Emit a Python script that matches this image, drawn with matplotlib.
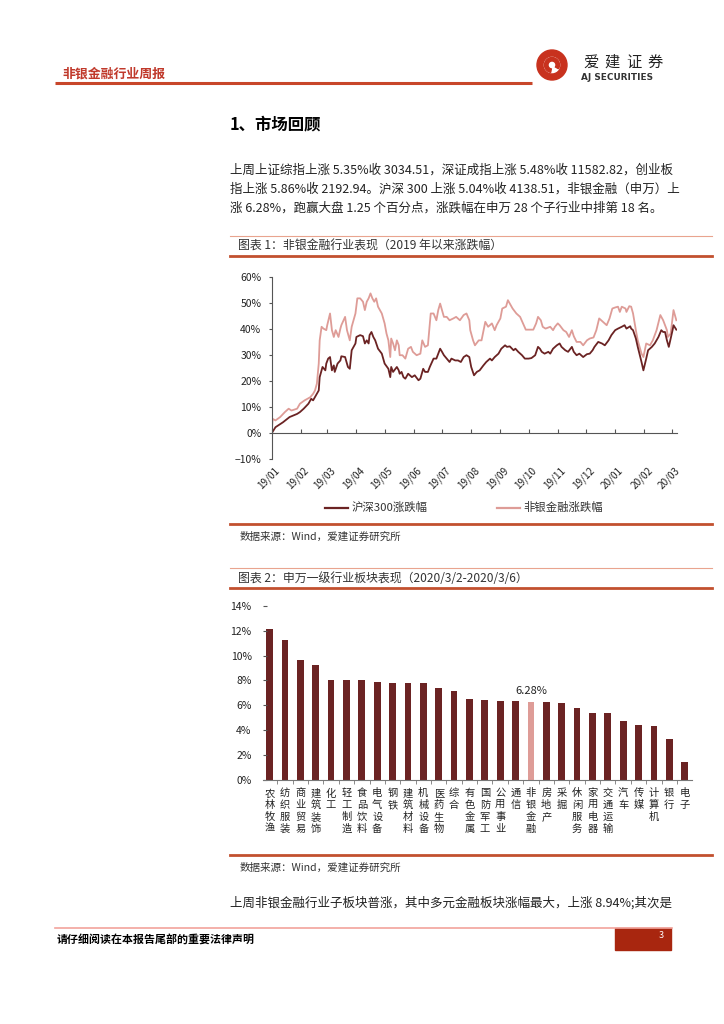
"""Weekly report page: market review text plus two charts (non-bank financials)."""

import matplotlib
matplotlib.use("Agg")
import matplotlib.pyplot as plt
import numpy as np
import pandas as pd
from matplotlib.patches import Rectangle, Wedge
from matplotlib.ticker import FuncFormatter

plt.rcParams["font.family"] = ["Noto Sans CJK SC", "DejaVu Sans"]

W, H = 724, 1024

# ---- chart 1: cumulative change since 2019-01-01 (days offset, %) ----
START = pd.Timestamp("2019-01-01")
hs300_day = [0, 4, 12, 19, 27, 30, 34, 39, 42, 44,
             48, 50, 51, 54, 57, 58, 60, 62, 64, 66,
             67, 70, 73, 74, 78, 81, 83, 85, 89, 90,
             94, 97, 99, 101, 103, 104, 106, 108, 110, 113,
             117, 120, 124, 126, 127, 129, 133, 135, 136, 138,
             140, 142, 145, 149, 152, 156, 158, 161, 163, 166,
             168, 172, 175, 179, 181, 183, 186, 189, 191, 195,
             198, 201, 204, 207, 210, 212, 215, 218, 221, 225,
             228, 232, 234, 237, 241, 244, 248, 250, 253, 257,
             259, 262, 266, 269, 273, 276, 280, 283, 285, 287,
             290, 294, 296, 299, 303, 306, 308, 312, 315, 319,
             321, 324, 327, 331, 335, 338, 341, 343, 347, 351,
             354, 358, 361, 365, 368, 372, 375, 377, 381, 382,
             384, 387, 389, 393, 395, 398, 400, 404, 407, 411,
             414, 416, 418, 420, 422, 424, 426, 427, 430]
hs300_pct = [0, 2.3, 4.2, 6.2, 7.4, 8.1, 9.4, 11.3, 13.2, 12.6,
             15.1, 16.4, 21.5, 25.4, 24.1, 26.7, 28.6, 29.2, 24.1, 26.0,
             23.5, 26.7, 27.9, 29.5, 29.2, 25.4, 24.7, 31.8, 34.4, 36.9,
             37.6, 37.2, 34.4, 35.6, 34.4, 37.6, 38.8, 36.9, 35.6, 32.4,
             30.5, 26.7, 24.7, 21.5, 25.4, 23.5, 25.4, 24.1, 22.8, 23.5,
             21.5, 20.9, 22.8, 21.5, 22.2, 20.3, 20.9, 24.7, 23.5, 23.5,
             25.4, 28.6, 28.6, 32.4, 31.2, 29.9, 28.6, 27.3, 28.6, 27.9,
             27.9, 27.3, 29.2, 29.9, 29.2, 25.4, 22.2, 23.5, 24.1, 26.0,
             27.3, 28.6, 27.9, 29.2, 30.5, 32.4, 33.7, 33.1, 33.3, 31.8,
             32.4, 31.2, 29.9, 28.6, 28.6, 28.8, 29.9, 33.1, 32.4, 31.2,
             30.5, 31.2, 30.5, 32.4, 33.7, 34.4, 33.1, 31.8, 31.2, 33.1,
             31.2, 29.9, 30.5, 29.2, 30.3, 30.5, 31.8, 33.1, 35.0, 34.4,
             33.7, 35.6, 37.6, 39.5, 40.1, 40.8, 41.4, 40.1, 41.0, 40.1,
             39.5, 36.3, 33.1, 27.3, 24.1, 28.6, 31.8, 33.1, 34.4, 36.9,
             39.5, 38.8, 38.8, 35.6, 33.1, 36.3, 39.5, 41.4, 39.7]

fin_day = [0, 1, 4, 9, 14, 18, 21, 27, 30, 35,
           41, 44, 46, 48, 50, 51, 53, 55, 58, 59,
           62, 64, 66, 68, 71, 73, 74, 78, 80, 83,
           85, 89, 91, 94, 97, 99, 101, 103, 105, 107,
           109, 111, 113, 117, 120, 122, 124, 126, 127, 129,
           131, 133, 135, 136, 139, 142, 145, 148, 150, 154,
           158, 160, 163, 166, 169, 172, 175, 177, 179, 181,
           183, 186, 189, 193, 196, 200, 204, 207, 210, 211,
           214, 216, 220, 223, 227, 230, 234, 237, 239, 243,
           245, 249, 251, 254, 256, 260, 264, 267, 270, 274,
           278, 281, 283, 286, 288, 291, 296, 299, 301, 304,
           306, 310, 313, 316, 319, 321, 324, 328, 331, 335,
           338, 342, 345, 348, 352, 356, 359, 362, 365, 368,
           370, 372, 376, 377, 380, 382, 384, 387, 389, 393,
           395, 398, 402, 405, 409, 413, 416, 420, 421, 424,
           426, 427, 430]
fin_pct = [0, 5.5, 4.9, 6.2, 8.1, 9.4, 8.7, 9.4, 11.3, 12.6,
           13.8, 15.1, 16.4, 19.0, 26.7, 35.6, 40.8, 40.1, 39.5, 41.4,
           45.9, 39.5, 36.9, 39.5, 36.9, 40.1, 41.4, 44.6, 39.5, 35.6,
           40.8, 45.9, 51.7, 51.7, 50.4, 47.2, 50.4, 51.7, 53.6, 51.7,
           50.4, 51.7, 48.5, 45.9, 42.1, 38.2, 35.6, 29.2, 36.3, 34.4,
           31.8, 35.6, 33.7, 29.9, 29.9, 28.6, 32.4, 33.1, 31.2, 29.9,
           30.5, 35.6, 33.1, 33.7, 45.9, 45.9, 43.3, 47.2, 49.7, 47.2,
           44.6, 44.6, 43.3, 44.0, 44.6, 43.3, 45.3, 45.9, 43.3, 39.5,
           35.6, 33.7, 35.6, 35.6, 42.7, 40.8, 42.1, 39.5, 41.4, 44.0,
           47.8, 48.5, 51.0, 49.1, 47.8, 45.9, 44.6, 42.1, 39.7, 39.7,
           39.7, 42.1, 44.6, 43.3, 40.8, 40.1, 40.8, 39.5, 40.8, 42.1,
           41.4, 39.5, 38.8, 36.9, 39.5, 37.2, 35.0, 35.0, 33.7, 35.6,
           36.3, 36.7, 39.5, 44.0, 42.7, 41.4, 44.0, 47.8, 48.2, 48.5,
           46.5, 48.5, 47.8, 46.5, 48.7, 48.5, 45.9, 39.5, 35.6, 30.5,
           29.2, 34.4, 33.7, 35.6, 39.5, 45.3, 43.3, 39.5, 36.9, 38.2,
           44.0, 47.2, 43.3]

# ---- chart 2: SW level-1 industries, 2020/3/2-2020/3/6 (%) ----
industries = ["农林牧渔", "纺织服装", "商业贸易", "建筑装饰", "化工", "轻工制造",
              "食品饮料", "电气设备", "钢铁", "建筑材料", "机械设备", "医药生物",
              "综合", "有色金属", "国防军工", "公用事业", "通信", "非银金融",
              "房地产", "采掘", "休闲服务", "家用电器", "交通运输", "汽车",
              "传媒", "计算机", "银行", "电子"]
weekly_pct = [12.16, 11.28, 9.62, 9.22, 8.07, 8.02, 8.02, 7.88, 7.78, 7.78,
              7.78, 7.37, 7.13, 6.49, 6.41, 6.36, 6.36, 6.28, 6.25, 6.15,
              5.80, 5.42, 5.42, 4.73, 4.44, 4.33, 3.31, 1.47]
highlight = "非银金融"

RED = "#C0392B"
FRAME = "#C2502F"
DARK = "#6B2323"
PINK = "#DE9C97"

fig = plt.figure(figsize=(W / 100, H / 100), dpi=100)
ov = fig.add_axes([0, 0, 1, 1])
ov.set_xlim(0, W)
ov.set_ylim(H, 0)
ov.axis("off")


def px_axes(left, top, right, bottom):
    return fig.add_axes([left / W, 1 - bottom / H, (right - left) / W, (bottom - top) / H])


# ---- page header ------------------------------------------------------ #
ov.text(62, 74, "非银金融行业周报", color=RED, fontsize=9.3, weight="bold", va="center")
ov.plot([55, 532], [83, 83], color="#C8462A", lw=2.2, solid_capstyle="butt")

ov.add_patch(Wedge((552, 65), 15, 0, 360, width=6, color="#C8321E"))
ov.add_patch(Wedge((552, 65), 7.5, 100, 390, width=3.5, color="#C8321E"))
for i, ch in enumerate("爱建证券"):
    ov.text(591 + i * 21.5, 62, ch, fontsize=11, ha="center", va="center", color="#222")
ov.text(581, 77, "AJ SECURITIES", fontsize=6.4, weight="bold", va="center",
        family="DejaVu Sans", color="#333")

# ---- market review text ---------------------------------------------- #
ov.text(230, 124, "1、市场回顾", fontsize=11.8, weight="bold", va="center")
para = ["上周上证综指上涨 5.35%收 3034.51，深证成指上涨 5.48%收 11582.82，创业板",
        "指上涨 5.86%收 2192.94。沪深 300 上涨 5.04%收 4138.51，非银金融（申万）上",
        "涨 6.28%，跑赢大盘 1.25 个百分点，涨跌幅在申万 28 个子行业中排第 18 名。"]
for i, line in enumerate(para):
    ov.text(230, 170 + i * 19.2, line, fontsize=9.0, va="center", color="#222")


def frame(top, bottom, title):
    ov.plot([230, 712], [top, top], color="#E9A48F", lw=0.8)
    ov.text(238, top + 10, title, fontsize=8.6, va="center", color="#333")
    ov.plot([230, 712], [top + 20, top + 20], color=FRAME, lw=2)
    ov.plot([230, 712], [bottom, bottom], color=FRAME, lw=2)
    ov.text(240, bottom + 13, "数据来源：Wind，爱建证券研究所", fontsize=7.6,
            va="center", color="#333")


frame(236, 523.5, "图表 1：非银金融行业表现（2019 年以来涨跌幅）")
frame(568, 855, "图表 2：申万一级行业板块表现（2020/3/2-2020/3/6）")

# ---- chart 1: lines ---------------------------------------------------- #
pct_fmt = FuncFormatter(lambda v, _: f"{v:.0f}%".replace("-", "\u2212"))

ax1 = px_axes(271.7, 276.7, 676.8, 459.3)
hs_dates = START + pd.to_timedelta(hs300_day, unit="D")
fin_dates = START + pd.to_timedelta(fin_day, unit="D")
ax1.plot(fin_dates, fin_pct, color=PINK, lw=1.3)
ax1.plot(hs_dates, hs300_pct, color=DARK, lw=1.3)
ax1.set_xlim(START, START + pd.Timedelta(days=430.5))
ax1.set_ylim(-10, 60)
ax1.set_yticks(range(-10, 61, 10))
ax1.yaxis.set_major_formatter(pct_fmt)
months = pd.date_range("2019-01-01", "2020-03-01", freq="MS")
ax1.set_xticks(months)
ax1.tick_params(axis="x", direction="in", length=3, labelbottom=False, color="#555")
ax1.tick_params(axis="y", direction="out", length=2.5, pad=5, labelsize=7.5,
                color="#555", labelcolor="#222")
for side in ("top", "right"):
    ax1.spines[side].set_visible(False)
ax1.spines["bottom"].set_position(("data", 0))
for side in ("left", "bottom"):
    ax1.spines[side].set_color("#555")
    ax1.spines[side].set_linewidth(0.8)
for m in months:
    ax1.annotate(m.strftime("%y/%m"), xy=(m, 0), xycoords=("data", "axes fraction"),
                 xytext=(2, -4), textcoords="offset points", rotation=45,
                 ha="right", va="top", rotation_mode="anchor", fontsize=7.2, color="#222")

ov.plot([325, 348], [507.5, 507.5], color=DARK, lw=1.6)
ov.text(352, 507.5, "沪深300涨跌幅", fontsize=8.2, va="center", color="#333")
ov.plot([497, 520], [507.5, 507.5], color=PINK, lw=1.6)
ov.text(523, 507.5, "非银金融涨跌幅", fontsize=8.2, va="center", color="#333")

# ---- chart 2: bars ----------------------------------------------------- #
ax2 = px_axes(262.7, 605.8, 691.7, 780)
x = np.arange(len(industries))
colors = [PINK if name == highlight else DARK for name in industries]
ax2.bar(x, weekly_pct, width=0.44, color=colors)
hi = industries.index(highlight)
ax2.annotate(f"{weekly_pct[hi]:.2f}%", xy=(hi, weekly_pct[hi]), xytext=(0, 4),
             textcoords="offset points", ha="center", va="bottom", fontsize=8, color="#222")
ax2.set_xlim(-0.45, 27.46)
ax2.set_ylim(0, 14)
ax2.set_yticks(range(0, 15, 2))
ax2.yaxis.set_major_formatter(pct_fmt)
ax2.set_xticks(x)
ax2.set_xticklabels(["\n".join(name) for name in industries], fontsize=7.4,
                    linespacing=1.22, va="top", color="#222")
ax2.set_xticks(x[:-1] + 0.5, minor=True)
ax2.tick_params(axis="x", which="major", length=0, pad=6)
ax2.tick_params(axis="x", which="minor", direction="out", length=3, color="#777")
ax2.tick_params(axis="y", direction="in", length=3, pad=8, labelsize=7.5,
                color="#555", labelcolor="#222")
for side in ("top", "right", "left"):
    ax2.spines[side].set_visible(False)
ax2.spines["bottom"].set_color("#777")
ax2.spines["bottom"].set_linewidth(0.8)

# ---- closing text and footer ------------------------------------------ #
ov.text(230, 903, "上周非银金融行业子板块普涨，其中多元金融板块涨幅最大，上涨 8.94%;其次是",
        fontsize=9.0, va="center", color="#222")
ov.plot([55, 672], [928, 928], color="#F2A39C", lw=1.2)
ov.text(57, 939, "请仔细阅读在本报告尾部的重要法律声明", fontsize=7.9, weight="bold", va="center")
ov.add_patch(Rectangle((615, 928), 56, 22, color="#A8260F"))
ov.text(661, 935, "3", color="white", fontsize=6.5, ha="center", va="center")

fig.savefig("out.png", dpi=100)
